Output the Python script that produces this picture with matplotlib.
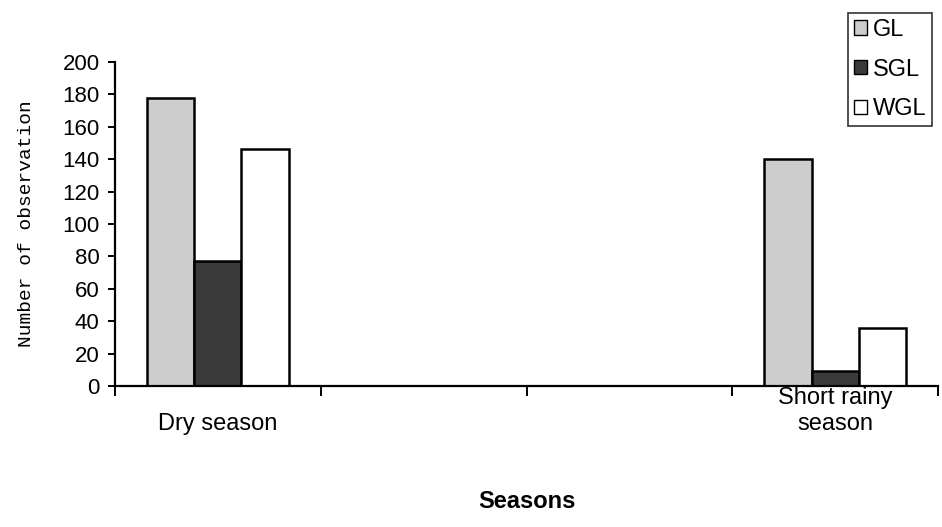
import matplotlib.pyplot as plt
import numpy as np

# datos
estaciones = ['Dry season', '', '', 'Short rainy\nseason']
series = ['GL', 'SGL', 'WGL']
gl = [178, 0, 0, 140]
sgl = [77, 0, 0, 9]
wgl = [146, 0, 0, 36]
y_ticks = [0, 20, 40, 60, 80, 100, 120, 140, 160, 180, 200]

colores = ['#cdcdcd', '#3a3a3a', '#ffffff']
fuente = 'Liberation Sans'

fig = plt.figure(figsize=(9.42, 5.27), dpi=100)
ax = fig.add_axes([115/942, 141/527, 823/942, 324/527])

x = np.arange(len(estaciones))
ancho = 0.229
for i, (nombre, valores) in enumerate(zip(series, [gl, sgl, wgl])):
    ax.bar(x + (i - 1) * ancho, valores, ancho, color=colores[i],
           edgecolor='black', linewidth=1.8, label=nombre)

ax.set_xlim(-0.5, len(estaciones) - 0.5)
ax.set_ylim(0, 200)

for s in ['top', 'right']:
    ax.spines[s].set_visible(False)
for s in ['left', 'bottom']:
    ax.spines[s].set_linewidth(1.6)

ax.set_yticks(y_ticks)
ax.set_yticklabels([str(v) for v in y_ticks], family=fuente, fontsize=16)
ax.tick_params(axis='y', length=5, width=1.4, pad=6)

ax.set_xticks(np.arange(len(estaciones) + 1) - 0.5)
ax.set_xticklabels([])
ax.tick_params(axis='x', length=7, width=1.4)

for xi, etiqueta in zip(x, estaciones):
    if etiqueta == '':
        continue
    ax.text(xi, -0.15, etiqueta, transform=ax.get_xaxis_transform(),
            ha='center', va='bottom', family=fuente,
            fontsize=17, linespacing=1.2)

ax.set_ylabel('Number of observation', family='Liberation Mono', fontsize=14, labelpad=20)
fig.text(527/942, 1 - 502/527, 'Seasons', ha='center', va='center',
         family=fuente, fontsize=17, fontweight='bold')

leg = fig.legend(loc='upper left', bbox_to_anchor=(848/942, 1 - 13/527),
                 prop={'family': fuente, 'size': 17}, frameon=True, fancybox=False,
                 borderpad=0.25, handlelength=0.55, handleheight=0.55, handletextpad=0.25,
                 labelspacing=0.75, borderaxespad=0)
leg.get_frame().set_edgecolor('black')
leg.get_frame().set_linewidth(1.2)
for h in leg.legend_handles:
    h.set_linewidth(1.0)

plt.savefig('out.png', dpi=100)
